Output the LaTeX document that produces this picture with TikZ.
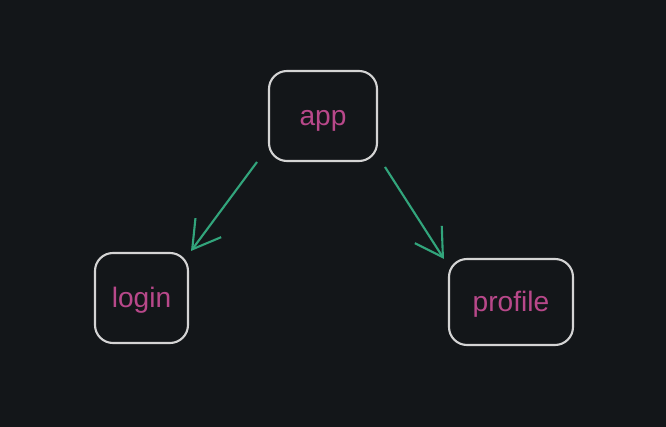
\documentclass[tikz,border=0pt]{standalone}
\usepackage{fontspec}
\setmainfont{Liberation Sans}
\usepackage{tikz}
\usetikzlibrary{arrows.meta}
\definecolor{bgdark}{HTML}{131619}
\definecolor{boxline}{HTML}{D4D4D4}
\definecolor{labelpink}{HTML}{B8488A}
\definecolor{flowgreen}{HTML}{32A57C}

\begin{document}
\begin{tikzpicture}[
    comp/.style={draw=boxline, line width=0.6pt, rounded corners=0.18cm, text=labelpink,
      font=\fontsize{8}{9.5}\selectfont, inner sep=0pt, text height=0.55em, text depth=0pt},
    flow/.style={draw=flowgreen, line width=0.6pt, -{Straight Barb[length=2.7mm,width=3.2mm]}}
  ]
  \fill[bgdark] (0,0) rectangle (6.66,4.27);
  \useasboundingbox (0,0) rectangle (6.66,4.27);
  \node [comp, minimum width=1.08cm, minimum height=0.90cm] (app) at (3.23,3.11) {app};
  \node [comp, minimum width=0.93cm, minimum height=0.90cm] (login) at (1.415,1.29) {login};
  \node [comp, minimum width=1.24cm, minimum height=0.86cm] (profile) at (5.11,1.25) {profile};
  \coordinate (appleft) at (2.57,2.65);
  \coordinate (appright) at (3.85,2.60);
  \coordinate (loginin) at (1.91,1.76);
  \coordinate (profilein) at (4.44,1.68);
  \draw [flow] (appleft) -- (loginin);
  \draw [flow] (appright) -- (profilein);
\end{tikzpicture}
\end{document}
